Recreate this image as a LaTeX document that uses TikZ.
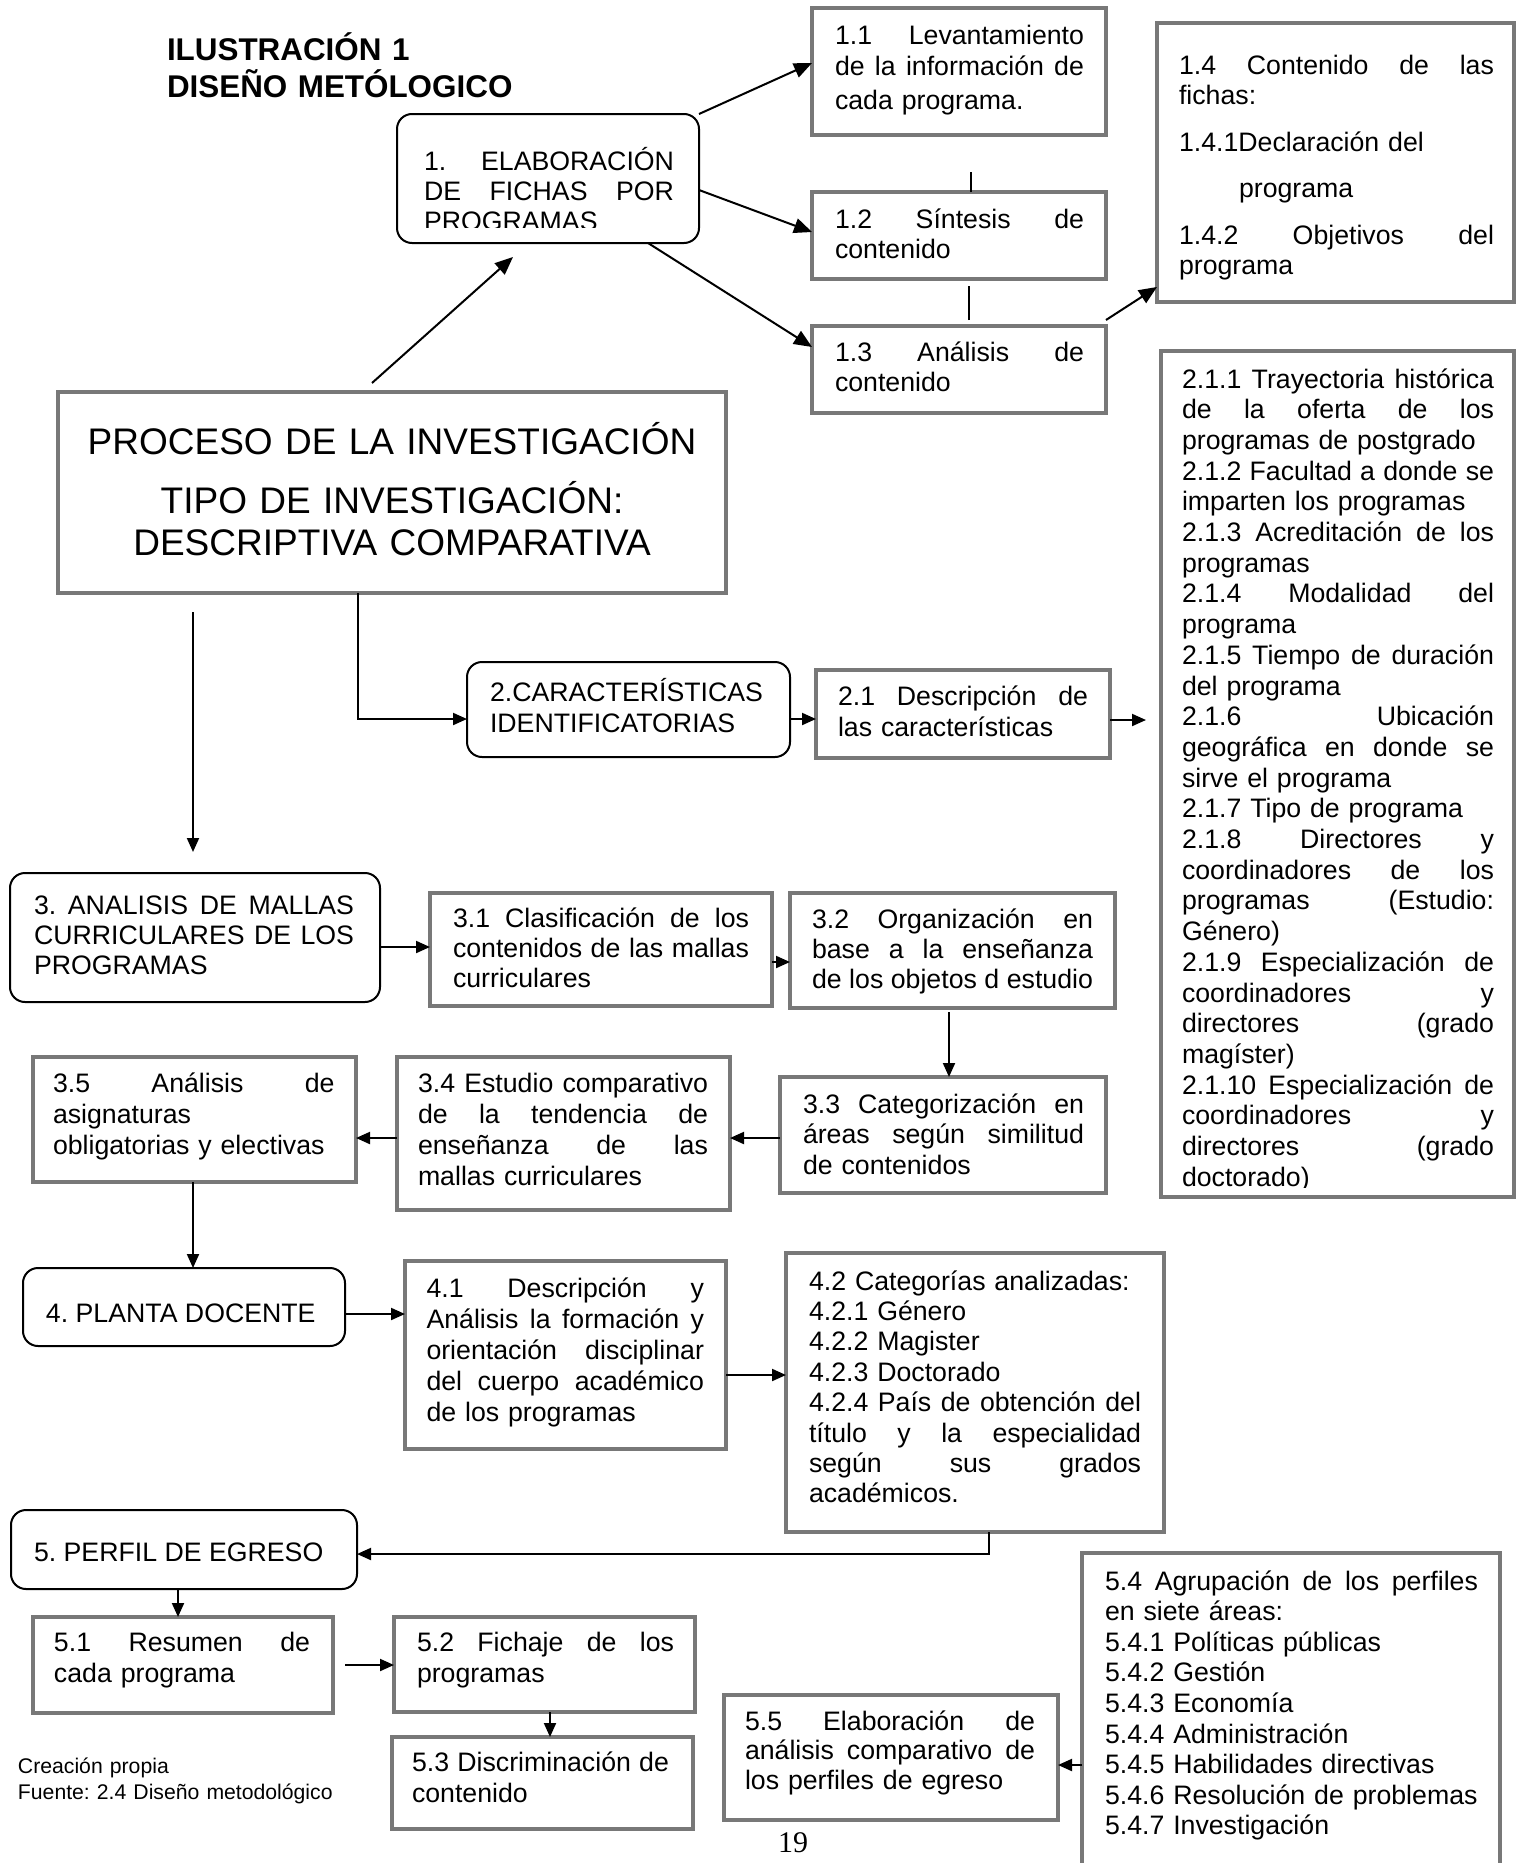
\documentclass[tikz,border=0pt]{standalone}
\usepackage{fontspec}
\setmainfont{Liberation Sans}
\newfontfamily\pnfont{Liberation Serif}
\usetikzlibrary{arrows.meta}
\frenchspacing
\definecolor{boxgray}{RGB}{120,120,120}
\newcommand\bodyfont[1]{\fontsize{13.35pt}{#1}\selectfont}
\newcommand\jl[1]{{\spaceskip=\fontdimen2\font plus 1fil\relax\xspaceskip=\spaceskip\makebox[\hsize][s]{#1}}}
\newcommand\mkbox[6]{\node[#1, minimum width={(#5-#3)*0.5pt}, minimum height={(#6-#4)*0.5pt}] (#2) at (#3,#4) {};}
\tikzset{
 gbox/.style={draw=boxgray, line width=2pt, inner sep=0pt, outer sep=0pt, anchor=north west},
 rbox/.style={draw=black, line width=1pt, rounded corners=7.5pt, inner sep=0pt, outer sep=0pt, anchor=north west},
 txt/.style={inner sep=0pt, outer sep=0pt, anchor=base west, align=left},
 arr/.style={line width=1pt, -{Triangle[length=7pt,width=6pt]}},
 bigarr/.style={line width=1pt, -{Triangle[length=9pt,width=7.5pt]}},
 plain/.style={line width=1pt},
}
\begin{document}
\begin{tikzpicture}[x=0.5pt,y=-0.5pt]
\useasboundingbox (0,0) rectangle (1516,1863);
\clip (0,0) rectangle (1516,1863);
\fill[white] (0,0) rectangle (1516,1863);

% boxes
\mkbox{rbox}{b1}{397}{114}{699}{243}
\mkbox{gbox}{b11}{812}{8}{1106}{135}
\mkbox{gbox}{b12}{812}{192}{1106}{279}
\mkbox{gbox}{b13}{812}{326}{1106}{413}
\mkbox{gbox}{b14}{1157}{23}{1514}{302}
\mkbox{gbox}{big}{58}{392}{726}{593}
\mkbox{rbox}{b2}{467}{662}{790}{757}
\mkbox{gbox}{b21}{816}{670}{1110}{758}
\mkbox{gbox}{b21x}{1161}{351}{1514}{1197}
\mkbox{rbox}{b3}{10}{873}{380}{1002}
\mkbox{gbox}{b31}{430}{893}{772}{1006}
\mkbox{gbox}{b32}{790}{893}{1115}{1008}
\mkbox{gbox}{b33}{780}{1077}{1106}{1193}
\mkbox{gbox}{b34}{397}{1057}{730}{1210}
\mkbox{gbox}{b35}{33}{1057}{356}{1182}
\mkbox{rbox}{b4}{23}{1268}{345}{1346}
\mkbox{gbox}{b41}{405}{1261}{726}{1449}
\mkbox{gbox}{b42}{786}{1253}{1164}{1532}
\mkbox{rbox}{b5}{11}{1510}{357}{1589}
\mkbox{gbox}{b51}{33}{1617}{333}{1713}
\mkbox{gbox}{b52}{394}{1617}{695}{1712}
\mkbox{gbox}{b53}{392}{1737}{693}{1829}
\mkbox{gbox}{b54}{1082}{1553}{1500}{1890}
\mkbox{gbox}{b55}{724}{1695}{1058}{1820}

% title
\node[txt, text width=180pt, font=\fontsize{15.7pt}{18.5pt}\selectfont\bfseries] (title) at (167,60) {ILUSTRACIÓN 1\\DISEÑO METÓLOGICO};

% texts
\begin{scope}
\clip (397,114) rectangle (699,227);
\node[txt, text width=125pt, font=\bodyfont{15pt}] (t1) at (424,170) {\jl{1. ELABORACIÓN}\\\jl{DE FICHAS POR}\\PROGRAMAS};
\end{scope}
\node[txt, text width=124.5pt, font=\bodyfont{15.5pt}] (t11) at (835,44) {\jl{1.1 Levantamiento}\\\jl{de la información de}\\[1.5pt]cada programa.};
\node[txt, text width=124.5pt, font=\bodyfont{15pt}] (t12) at (835,228) {\jl{1.2 Síntesis de}\\contenido};
\node[txt, text width=124.5pt, font=\bodyfont{15pt}] (t13) at (835,361) {\jl{1.3 Análisis de}\\contenido};
\node[txt, text width=157.5pt, font=\bodyfont{15.35pt}] (t14) at (1179,74) {\jl{1.4 Contenido de las}\\fichas:\\[8.15pt]1.4.1Declaración del\\[7.65pt]\hspace*{30pt}programa\\[8.15pt]\jl{1.4.2 Objetivos del}\\[-0.35pt]programa};
\node[txt, anchor=base, align=center, text width=330pt, font=\fontsize{18.5pt}{21pt}\selectfont] (tbig) at (392,454) {PROCESO DE LA INVESTIGACIÓN\\[8.5pt]TIPO DE INVESTIGACIÓN:\\DESCRIPTIVA COMPARATIVA};
\node[txt, text width=150pt, font=\bodyfont{15.5pt}] (t2) at (490,701) {2.CARACTERÍSTICAS\\IDENTIFICATORIAS};
\node[txt, text width=125pt, font=\bodyfont{15.5pt}] (t21) at (838,705) {\jl{2.1 Descripción de}\\las características};
\begin{scope}
\clip (1161,351) rectangle (1514,1187);
\node[txt, text width=156pt, font=\bodyfont{15.35pt}] (t21x) at (1182,388) {\jl{2.1.1 Trayectoria histórica}\\
\jl{de la oferta de los}\\
programas de postgrado\\
\jl{2.1.2 Facultad a donde se}\\
imparten los programas\\
\jl{2.1.3 Acreditación de los}\\
programas\\
\jl{2.1.4 Modalidad del}\\
programa\\
\jl{2.1.5 Tiempo de duración}\\
del programa\\
\jl{2.1.6 Ubicación}\\
\jl{geográfica en donde se}\\
sirve el programa\\
2.1.7 Tipo de programa\\
\jl{2.1.8 Directores y}\\
\jl{coordinadores de los}\\
\jl{programas (Estudio:}\\
Género)\\
\jl{2.1.9 Especialización de}\\
\jl{coordinadores y}\\
\jl{directores (grado}\\
magíster)\\
\jl{2.1.10 Especialización de}\\
\jl{coordinadores y}\\
\jl{directores (grado}\\
doctorado)};
\end{scope}
\node[txt, text width=160pt, font=\bodyfont{15pt}] (t3) at (34,914) {\jl{3. ANALISIS DE MALLAS}\\\jl{CURRICULARES DE LOS}\\PROGRAMAS};
\node[txt, text width=148pt, font=\bodyfont{15pt}] (t31) at (453,927) {\jl{3.1 Clasificación de los}\\\jl{contenidos de las mallas}\\curriculares};
\node[txt, text width=140.5pt, font=\bodyfont{15pt}] (t32) at (812,928) {\jl{3.2 Organización en}\\\jl{base a la enseñanza}\\\jl{de los objetos d estudio}};
\node[txt, text width=140.5pt, font=\bodyfont{15.25pt}] (t33) at (803,1113) {\jl{3.3 Categorización en}\\\jl{áreas según similitud}\\de contenidos};
\node[txt, text width=145pt, font=\bodyfont{15.5pt}] (t34) at (418,1092) {\jl{3.4 Estudio comparativo}\\\jl{de la tendencia de}\\\jl{enseñanza de las}\\mallas curriculares};
\node[txt, text width=140.75pt, font=\bodyfont{15.5pt}] (t35) at (53,1092) {\jl{3.5 Análisis de}\\asignaturas\\obligatorias y electivas};
\node[txt, font=\bodyfont{15.5pt}] (t4) at (46,1322) {4. PLANTA DOCENTE};
\node[txt, text width=138.75pt, font=\bodyfont{15.5pt}] (t41) at (426.5,1297) {\jl{4.1 Descripción y}\\\jl{Análisis la formación y}\\\jl{orientación disciplinar}\\\jl{del cuerpo académico}\\de los programas};
\node[txt, text width=166pt, font=\bodyfont{15.2pt}] (t42) at (809,1290) {4.2 Categorías analizadas:\\4.2.1 Género\\4.2.2 Magister\\4.2.3 Doctorado\\\jl{4.2.4 País de obtención del}\\\jl{título y la especialidad}\\\jl{según sus grados}\\académicos.};
\node[txt, font=\bodyfont{15.5pt}] (t5) at (34,1561) {5. PERFIL DE EGRESO};
\node[txt, text width=128pt, font=\bodyfont{15.5pt}] (t51) at (54,1651) {\jl{5.1 Resumen de}\\cada programa};
\node[txt, text width=128.5pt, font=\bodyfont{15.5pt}] (t52) at (417,1651) {\jl{5.2 Fichaje de los}\\programas};
\node[txt, text width=128.5pt, font=\bodyfont{15.5pt}] (t53) at (412,1771) {\jl{5.3 Discriminación de}\\contenido};
\node[txt, text width=186.5pt, font=\bodyfont{15.3pt}] (t54) at (1105,1590) {\jl{5.4 Agrupación de los perfiles}\\en siete áreas:\\5.4.1 Políticas públicas\\5.4.2 Gestión\\5.4.3 Economía\\5.4.4 Administración\\5.4.5 Habilidades directivas\\5.4.6 Resolución de problemas\\5.4.7 Investigación};
\node[txt, text width=145pt, font=\bodyfont{14.75pt}] (t55) at (745,1730) {\jl{5.5 Elaboración de}\\\jl{análisis comparativo de}\\los perfiles de egreso};
\node[txt, text width=170pt, font=\fontsize{10.6pt}{13pt}\selectfont] (tfoot) at (18,1773) {Creación propia\\Fuente: 2.4 Diseño metodológico};
\node[txt, font=\pnfont\fontsize{15pt}{18pt}\selectfont] (t19) at (778,1852) {19};

% connectors
\coordinate (c1a) at (372,383);
\coordinate (c1b) at (513,257);
\draw[bigarr] (c1a) -- (c1b);
\draw[bigarr] (b1.north east) -- (b11.west |- 0,63);
\draw[bigarr] (b1.east |- 0,190) -- (b12.west |- 0,232);
\draw[bigarr] (b1.south -| 648,0) -- (b13.west |- 0,347);
\draw[bigarr] (b13.east |- 0,320) -- (b14.west |- 0,287);
\draw[plain] (b12.north -| 971,0) -- ++(0,-20);
\draw[plain] (b13.north -| 969,0) ++(0,-6) -- ++(0,-34);
\draw[arr] (big.south -| 358,0) |- (b2.west |- 0,719);
\draw[arr] (b2.east |- 0,719) -- (b21.west |- 0,719);
\draw[arr, shorten >=7.5pt] (b21.east |- 0,720) -- (b21x.west |- 0,720);
\draw[arr, shorten <=9.5pt, shorten >=10.5pt] (big.south -| 193,0) -- (b3.north -| 193,0);
\draw[arr] (b3.east |- 0,947) -- (b31.west |- 0,947);
\draw[arr] (b31.east |- 0,962) -- (b32.west |- 0,962);
\draw[arr, shorten <=2pt] (b32.south -| 949,0) -- (b33.north -| 949,0);
\draw[arr] (b33.west |- 0,1138) -- (b34.east |- 0,1138);
\draw[arr] (b34.west |- 0,1138) -- (b35.east |- 0,1138);
\draw[arr] (b35.south -| 193,0) -- (b4.north -| 193,0);
\draw[arr] (b4.east |- 0,1314) -- (b41.west |- 0,1314);
\draw[arr] (b41.east |- 0,1375) -- (b42.west |- 0,1375);
\draw[arr] (b42.south -| 989,0) |- (b5.east |- 0,1554);
\draw[arr] (b5.south -| 178,0) -- (b51.north -| 178,0);
\draw[arr, shorten <=6pt] (b51.east |- 0,1665) -- (b52.west |- 0,1665);
\draw[arr] (b52.south -| 550,0) -- (b53.north -| 550,0);
\draw[arr] (b54.west |- 0,1765) -- (b55.east |- 0,1765);
\end{tikzpicture}
\end{document}
